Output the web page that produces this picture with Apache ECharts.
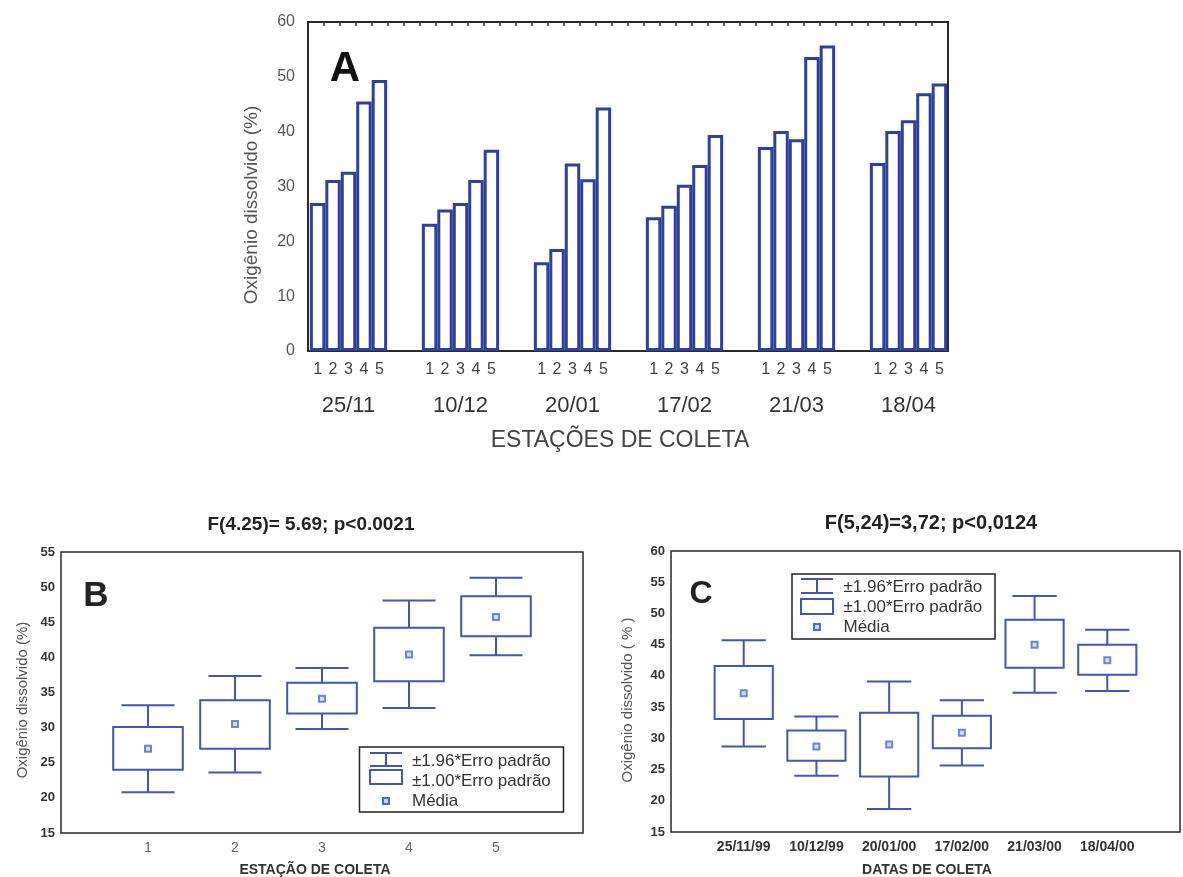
<!DOCTYPE html>
<html>
<head>
<meta charset="utf-8">
<script src="https://cdn.jsdelivr.net/npm/echarts@6/dist/echarts.min.js"></script>
<style>html,body{margin:0;padding:0;background:#fff}#c{width:1183px;height:877px}</style>
</head>
<body>
<div id="c"></div>
<script>
// ---------- Panel A data ----------
const datesA = ['25/11','10/12','20/01','17/02','21/03','18/04'];
const stationsA = ['1','2','3','4','5'];
const est1 = [27.0, 23.2, 16.2, 24.4, 37.2, 34.3];
const est2 = [31.2, 25.8, 18.6, 26.5, 40.1, 40.1];
const est3 = [32.7, 27.0, 34.2, 30.3, 38.6, 42.1];
const est4 = [45.5, 31.2, 31.3, 33.9, 53.6, 47.0];
const est5 = [49.4, 36.7, 44.4, 39.4, 55.7, 48.8];
const yTicksA = [0, 10, 20, 30, 40, 50, 60];

// ---------- Panel B data ----------
const stationsB = ['1','2','3','4','5'];
const bCiHigh = [33.2, 37.35, 38.5, 48.1, 51.35];
const bSeHigh = [30.1, 33.9, 36.4, 44.2, 48.7];
const bMean   = [27.0, 30.5, 34.1, 40.4, 45.75];
const bSeLow  = [24.0, 27.0, 32.0, 36.6, 43.0];
const bCiLow  = [20.8, 23.6, 29.8, 32.8, 40.3];
const yTicksB = [15, 20, 25, 30, 35, 40, 45, 50, 55];

// ---------- Panel C data ----------
const datesC = ['25/11/99','10/12/99','20/01/00','17/02/00','21/03/00','18/04/00'];
const cCiHigh = [45.7, 33.5, 39.1, 36.1, 52.8, 47.4];
const cSeHigh = [41.6, 31.25, 34.1, 33.6, 49.0, 45.0];
const cMean   = [37.2, 28.7, 29.0, 30.9, 45.0, 42.5];
const cSeLow  = [33.1, 26.4, 23.9, 28.4, 41.3, 40.2];
const cCiLow  = [28.7, 24.0, 18.7, 25.65, 37.3, 37.6];
const yTicksC = [15, 20, 25, 30, 35, 40, 45, 50, 55, 60];

const FONT = 'Liberation Sans, Arial, sans-serif';
const BAR_BLUE = '#2f409c';
const BOX_BLUE = '#4256b2';
const FRAME = '#2a2a2a';

const seriesA = [est1, est2, est3, est4, est5];

function boxData(ciL, seL, mean, seH, ciH) {
  return mean.map((m, i) => [i + 1, ciL[i], seL[i], m, seH[i], ciH[i]]);
}

function renderBox(params, api) {
  const x = api.value(0);
  const pCiL = api.coord([x, api.value(1)]);
  const pSeL = api.coord([x, api.value(2)]);
  const pSeH = api.coord([x, api.value(4)]);
  const pCiH = api.coord([x, api.value(5)]);
  const boxW = api.size([0.8, 0])[0];
  const capW = api.size([0.61, 0])[0];
  const st = { stroke: BOX_BLUE, lineWidth: 2, fill: null };
  const cx = pSeL[0];
  return {
    type: 'group',
    children: [
      { type: 'rect', shape: { x: cx - boxW / 2, y: pSeH[1], width: boxW, height: pSeL[1] - pSeH[1] }, style: { stroke: BOX_BLUE, lineWidth: 2, fill: '#fff' } },
      { type: 'line', shape: { x1: cx, y1: pSeH[1], x2: cx, y2: pCiH[1] }, style: st },
      { type: 'line', shape: { x1: cx, y1: pSeL[1], x2: cx, y2: pCiL[1] }, style: st },
      { type: 'line', shape: { x1: cx - capW / 2, y1: pCiH[1], x2: cx + capW / 2, y2: pCiH[1] }, style: st },
      { type: 'line', shape: { x1: cx - capW / 2, y1: pCiL[1], x2: cx + capW / 2, y2: pCiL[1] }, style: st }
    ]
  };
}

function legend(bx, by, bw, bh, ix, iw, capY1, capY2, boxY1, boxY2, markY, tx, rowsY, fs) {
  const st = { stroke: BOX_BLUE, lineWidth: 2, fill: null };
  const cx = ix + iw / 2;
  const texts = ['±1.96*Erro padrão', '±1.00*Erro padrão', 'Média'];
  const els = [
    { type: 'rect', shape: { x: bx, y: by, width: bw, height: bh }, style: { stroke: '#222', lineWidth: 1.5, fill: '#fff' }, z: 10 },
    { type: 'line', shape: { x1: ix, y1: capY1, x2: ix + iw, y2: capY1 }, style: st, z: 11 },
    { type: 'line', shape: { x1: ix, y1: capY2, x2: ix + iw, y2: capY2 }, style: st, z: 11 },
    { type: 'line', shape: { x1: cx, y1: capY1, x2: cx, y2: capY2 }, style: st, z: 11 },
    { type: 'rect', shape: { x: ix, y: boxY1, width: iw, height: boxY2 - boxY1 }, style: st, z: 11 },
    { type: 'rect', shape: { x: cx - 3, y: markY - 3, width: 6, height: 6 }, style: { stroke: '#4a6cc5', lineWidth: 2, fill: '#c8d4f0' }, z: 11 }
  ];
  texts.forEach((t, i) => {
    els.push({ type: 'text', x: tx, y: rowsY[i], z: 11, style: { text: t, fill: '#333', font: fs + 'px ' + FONT, verticalAlign: 'middle', align: 'left' } });
  });
  return els;
}

function txt(t, x, y, font, fill, rot) {
  return { type: 'text', x: x, y: y, rotation: rot || 0, z: 20,
    style: { text: t, fill: fill, font: font, align: 'center', verticalAlign: 'middle' } };
}

const option = {
  animation: false,
  backgroundColor: '#fff',
  grid: [
    { left: 308, right: 235, top: 22, bottom: 526, show: true, borderColor: FRAME, borderWidth: 2, backgroundColor: 'transparent' },
    { left: 292.5, right: 218.5, top: 22, bottom: 526 },
    { left: 61, right: 600, top: 552, bottom: 44, show: true, borderColor: FRAME, borderWidth: 1.5 },
    { left: 671, right: -12, top: 551, bottom: 45, show: true, borderColor: FRAME, borderWidth: 1.5 }
  ],
  xAxis: [
    { gridIndex: 0, type: 'value', min: 0, max: 40, interval: 1, position: 'top',
      axisLine: { show: false, onZero: false }, axisTick: { show: true, inside: true, length: 4, lineStyle: { color: FRAME, width: 1.5 } },
      axisLabel: { show: false }, splitLine: { show: false } },
    { gridIndex: 1, type: 'category', data: datesA,
      axisLine: { show: false, onZero: false }, axisTick: { show: false },
      axisLabel: { margin: 44, fontSize: 22, color: '#333', fontFamily: FONT } },
    { gridIndex: 2, type: 'value', min: 0, max: stationsB.length + 1, interval: 1,
      axisLine: { show: false, onZero: false }, axisTick: { show: false }, splitLine: { show: false },
      axisLabel: { margin: 8, fontSize: 14, color: '#666', fontFamily: FONT,
        formatter: v => (Number.isInteger(v) && v >= 1 && v <= stationsB.length) ? stationsB[v - 1] : '' } },
    { gridIndex: 3, type: 'value', min: 0, max: datesC.length + 1, interval: 1,
      axisLine: { show: false, onZero: false }, axisTick: { show: false }, splitLine: { show: false },
      axisLabel: { margin: 8, fontSize: 14, color: '#333', fontFamily: FONT, fontWeight: 'bold',
        formatter: v => (Number.isInteger(v) && v >= 1 && v <= datesC.length) ? datesC[v - 1] : '' } }
  ],
  yAxis: [
    { gridIndex: 0, type: 'value', min: yTicksA[0], max: yTicksA[yTicksA.length - 1], interval: yTicksA[1] - yTicksA[0],
      axisLine: { show: false }, axisTick: { show: false }, splitLine: { show: false },
      axisLabel: { margin: 13, fontSize: 16, color: '#555', fontFamily: FONT } },
    { gridIndex: 1, type: 'value', min: yTicksA[0], max: yTicksA[yTicksA.length - 1], show: false, splitLine: { show: false } },
    { gridIndex: 2, type: 'value', min: yTicksB[0], max: yTicksB[yTicksB.length - 1], interval: yTicksB[1] - yTicksB[0],
      axisLine: { show: false }, axisTick: { show: false }, splitLine: { show: false },
      axisLabel: { margin: 6, fontSize: 13, color: '#333', fontFamily: FONT, fontWeight: 'bold' } },
    { gridIndex: 3, type: 'value', min: yTicksC[0], max: yTicksC[yTicksC.length - 1], interval: yTicksC[1] - yTicksC[0],
      axisLine: { show: false }, axisTick: { show: false }, splitLine: { show: false },
      axisLabel: { margin: 6, fontSize: 13, color: '#333', fontFamily: FONT, fontWeight: 'bold' } }
  ],
  series: [
    ...seriesA.map((d, i) => ({
      type: 'bar', name: stationsA[i], xAxisIndex: 1, yAxisIndex: 1, data: d,
      barGap: '0%', barCategoryGap: '31%',
      itemStyle: { color: '#fff', borderColor: BAR_BLUE, borderWidth: 3 },
      label: { show: true, position: 'bottom', distance: 11, formatter: p => p.seriesName,
        fontSize: 16, color: '#444', fontFamily: FONT }
    })),
    { type: 'custom', xAxisIndex: 2, yAxisIndex: 2, renderItem: renderBox,
      data: boxData(bCiLow, bSeLow, bMean, bSeHigh, bCiHigh), z: 3 },
    { type: 'scatter', xAxisIndex: 2, yAxisIndex: 2, symbol: 'rect', symbolSize: 6, z: 4,
      data: bMean.map((m, i) => [i + 1, m]),
      itemStyle: { color: '#c8d4f0', borderColor: '#4a6cc5', borderWidth: 2 } },
    { type: 'custom', xAxisIndex: 3, yAxisIndex: 3, renderItem: renderBox,
      data: boxData(cCiLow, cSeLow, cMean, cSeHigh, cCiHigh), z: 3 },
    { type: 'scatter', xAxisIndex: 3, yAxisIndex: 3, symbol: 'rect', symbolSize: 6, z: 4,
      data: cMean.map((m, i) => [i + 1, m]),
      itemStyle: { color: '#c8d4f0', borderColor: '#4a6cc5', borderWidth: 2 } }
  ],
  graphic: [
    txt('A', 345, 69, 'bold 42px ' + FONT, '#111'),
    txt('Oxigênio dissolvido (%)', 252, 205, '19px ' + FONT, '#555', Math.PI / 2),
    txt('ESTAÇÕES DE COLETA', 620, 441, '23px ' + FONT, '#444'),
    txt('F(4.25)= 5.69; p<0.0021', 311, 525, 'bold 19px ' + FONT, '#222'),
    txt('B', 96, 596, 'bold 35px ' + FONT, '#222'),
    txt('Oxigênio dissolvido (%)', 23, 700, '15px ' + FONT, '#555', Math.PI / 2),
    txt('ESTAÇÃO DE COLETA', 315, 870, 'bold 14px ' + FONT, '#333'),
    txt('F(5,24)=3,72; p<0,0124', 931, 523, 'bold 20px ' + FONT, '#222'),
    txt('C', 701, 594, 'bold 32px ' + FONT, '#222'),
    txt('Oxigênio dissolvido ( % )', 628, 700, '15px ' + FONT, '#555', Math.PI / 2),
    txt('DATAS DE COLETA', 927, 870, 'bold 14px ' + FONT, '#333'),
    ...legend(359.5, 747, 204, 65, 370, 32, 753, 766, 770, 784, 801, 412, [761, 781, 801], 17),
    ...legend(792, 574, 203, 65, 801, 32, 579, 593, 599, 614, 627, 843.5, [587, 607, 627], 17)
  ]
};

const chart = echarts.init(document.getElementById('c'), null, { renderer: 'canvas' });
chart.setOption(option);
</script>
</body>
</html>
